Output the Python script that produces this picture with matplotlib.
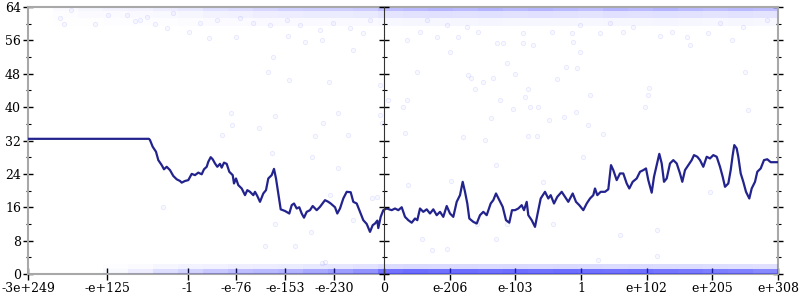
import matplotlib
matplotlib.use("Agg")
import matplotlib.pyplot as plt
from matplotlib.ticker import MultipleLocator

plt.rcParams['font.family'] = ['DejaVu Serif']
plt.rcParams['font.size'] = 9

# ---- data ----
tick_pos = [0, 79, 160, 208, 257, 306, 356, 421.7, 487.3, 553, 618.7, 684.3, 750]
tick_labels = ["-3e+249", "-e+125", "-1", "-e-76", "-e-153", "-e-230", "0",
               "e-206", "e-103", "1", "e+102", "e+205", "e+308"]
zero_pos = 356

line_x = [0, 121, 122, 124.7, 128, 130.3, 133.7, 136, 138.7, 142, 145.3, 148.7, 152, 153.7,
          157, 160.3, 163.7, 167, 170.3, 173.7, 176, 178.7, 180.3, 182.7, 184.7, 187, 189.3,
          192, 193.7, 196, 198.7, 201.3, 204.7, 206, 208, 210.3, 213.7, 217, 219.3, 222,
          225.3, 227, 229.3, 232, 235.3, 238, 240.3, 243.7, 246, 248, 250.3, 252.7, 257,
          261.3, 263.7, 266, 268.7, 271.3, 273.7, 276, 278.7, 282, 284.7, 288.7, 292, 297,
          300.3, 302.7, 307, 309.3, 312, 315.3, 318.7, 322.7, 325.3, 328.7, 332, 335.3,
          338.7, 342, 344.7, 347, 349.3, 350.3, 352.7, 355.3, 358.7, 363.7, 367, 370.3,
          373.7, 377, 380.3, 383.7, 387, 389.3, 392, 395.3, 398.7, 402, 405.3, 408.7, 412,
          415.3, 418.7, 422, 425.3, 428.7, 432, 434.7, 437, 439.3, 441.3, 445.3, 448.7, 452,
          455.3, 458.7, 462.7, 465.3, 468, 471.3, 474.7, 478, 481.3, 484, 487, 490.3, 493.7,
          496, 498.7, 500.3, 503.7, 507, 509.3, 512.7, 517, 520.3, 522.7, 526, 529.3, 533.7,
          537, 540.3, 544.7, 548, 551.3, 555.3, 558.7, 562, 565.3, 567, 569.3, 572.7, 577,
          580.3, 583, 585.3, 588.7, 592, 595.3, 598.7, 601.3, 604.7, 608.7, 612, 615.3, 618,
          620.3, 623.7, 626, 628.7, 631.3, 633.7, 636, 638.7, 642, 645.3, 648.7, 652, 654.3,
          657, 660.3, 663.7, 666, 669.3, 672, 675.3, 678.7, 682, 685.3, 688.7, 692, 694.7,
          697, 700.3, 702.7, 704.7, 706.3, 708.7, 710.3, 712.7, 715.3, 718, 721.3, 723.7,
          727, 729.3, 732.7, 736, 739.3, 742.7, 750]
line_y = [32.4, 32.4, 32.1, 30.5, 29.3, 27.3, 26.1, 25.1, 25.7, 24.9, 23.5, 22.7, 22.3, 21.9,
          22.3, 22.5, 24.0, 23.7, 24.3, 23.9, 25.1, 25.7, 26.9, 28.0, 27.5, 26.5, 25.7,
          26.4, 25.5, 26.7, 26.4, 24.5, 23.7, 21.7, 22.9, 21.3, 20.5, 18.9, 20.1, 19.7,
          18.9, 19.7, 18.7, 17.3, 19.3, 20.1, 22.9, 23.7, 25.2, 22.9, 19.3, 15.5, 15.1,
          14.5, 16.5, 16.9, 15.7, 16.0, 14.5, 13.5, 14.9, 15.3, 16.3, 15.3, 16.1, 17.7,
          17.3, 16.9, 16.0, 14.5, 15.7, 18.1, 19.7, 19.6, 17.3, 16.9, 14.9, 12.9,
          12.0, 10.1, 11.7, 12.1, 12.8, 11.0, 13.7, 15.3, 15.7, 15.3, 15.7, 15.3,
          16.0, 13.7, 12.9, 12.3, 13.3, 12.9, 15.7, 14.9, 15.5, 14.5, 15.5, 14.1, 14.9,
          13.7, 16.3, 14.5, 13.7, 17.3, 18.9, 22.1, 19.7, 16.9, 13.3, 12.5, 12.1, 14.1,
          14.9, 14.1, 16.9, 17.7, 19.3, 17.7, 16.1, 12.9, 12.3, 15.3, 15.3, 15.7, 16.5,
          15.3, 17.3, 14.1, 12.9, 11.3, 14.1, 18.1, 19.7, 18.1, 18.9, 16.9, 18.5, 19.7,
          18.5, 17.3, 19.3, 17.3, 16.5, 15.3, 16.9, 18.1, 18.9, 20.5, 18.9, 19.7, 19.7,
          20.3, 26.1, 24.9, 22.5, 24.1, 24.1, 21.7, 20.5, 22.1, 22.9, 24.5, 24.9, 25.3,
          22.5, 19.5, 23.3, 26.1, 28.8, 26.5, 22.1, 22.9, 26.5, 27.3, 26.5, 24.1, 22.1,
          24.9, 26.1, 27.3, 28.5, 28.1, 27.3, 25.7, 28.1, 27.7, 28.5, 28.1, 25.7, 23.3,
          20.9, 21.7, 24.9, 28.5, 30.9, 30.1, 28.1, 24.1, 22.1, 19.7, 18.1, 20.5,
          22.1, 24.5, 25.3, 27.3, 27.5, 26.8, 26.8]

pts_x = [32, 36.3, 42.7, 67, 80.3, 98.7, 107, 112, 127, 138.7, 161.3, 181.3, 193.7, 202.7,
         204.3, 207.7, 230.7, 240.3, 245.3, 247, 260.7, 260.3, 277, 287, 293.7, 294.7, 301,
         309.7, 319.7, 325.3, 335.3, 352, 352, 353.7, 360.3,
         377, 378.7, 375.3, 388.7, 422, 435.3, 440.3, 442.7, 447, 455.3, 457, 462.7, 465.3,
         472, 478.7, 485.3, 487, 497, 500.3, 500.3, 502, 508.7, 510.3, 521.3, 529.3, 536,
         537.7, 548, 548.7, 552, 560.3, 562, 575.3, 617, 620.3, 621.3, 662, 717, 720.3, 703.7,
         135.3, 237, 267, 247, 282.7, 243.7, 283.7, 310.3, 302, 325.3, 343.7, 348.7, 293.7,
         297, 380.3, 393.7, 403.7, 418.7, 422.7, 448.7, 468, 467.7, 478.7, 515.3, 525.3,
         555.3, 592, 628.7, 628.7, 682, 570.3,
         378.7, 392, 398.7, 408.7, 418.7, 430.3, 438.7, 450.3, 468.7, 475.3, 495.3, 495.3,
         505.3, 523.7, 543.7, 544.7, 552, 572, 582, 595.3, 605.3, 632, 643.7, 658.7, 680.3,
         692, 715.3, 738.7,
         118.7, 145.3, 172, 188.7, 212, 225.3, 242, 258.7, 272, 292, 305.3, 322, 342]
pts_y = [61.3, 59.9, 63.3, 59.9, 62.1, 62.1, 60.7, 61.0, 59.9, 58.9, 58.1, 56.5, 33.3, 38.5,
         35.7, 56.7, 35.1, 48.5, 52.1, 37.9, 46.5, 57.0, 55.7, 33.1, 56.1, 36.1, 46.1,
         38.5, 33.2, 53.7, 57.7, 45.3, 38.1, 36.3, 41.7,
         33.7, 41.7, 40.0, 48.3, 53.3, 32.8, 47.7, 47.1, 44.3, 46.1, 32.1, 37.3, 47.1,
         41.8, 50.5, 39.5, 47.9, 42.5, 44.3, 33.1, 40.1, 33.1, 40.1, 36.9, 46.7, 37.7,
         49.7, 38.9, 49.3, 53.1, 35.7, 42.9, 33.5, 40.0, 42.9, 44.7, 54.9, 48.3, 39.3, 56.1,
         16.1, 6.7, 6.7, 12.0, 10.1, 29.1, 28.0, 25.3, 18.9, 12.9, 18.1, 18.5, 2.6,
         2.9, 21.3, 8.3, 5.8, 6.0, 22.4, 12.1, 26.1, 8.3, 12.1, 22.1, 12.0,
         28.1, 9.3, 10.5, 4.3, 19.7, 3.4,
         56.1, 58.1, 60.9, 56.9, 59.7, 56.9, 59.3, 58.1, 55.3, 55.4, 55.3, 57.7,
         54.9, 58.1, 57.7, 55.7, 59.7, 57.7, 60.1, 58.1, 59.3, 57.0, 58.1, 56.9, 57.7,
         60.1, 59.3, 60.9,
         61.7, 62.5, 60.1, 60.9, 61.3, 60.1, 59.7, 60.9, 59.7, 58.5, 60.1, 58.9, 60.9]

# density of the crowded strips along y=64 and y=0, per 25-unit bin
bin_left = list(range(0, 750, 25))
top_density = [0.0, 0.02, 0.04, 0.05, 0.06, 0.08, 0.10, 0.14, 0.16, 0.19, 0.21, 0.22, 0.22,
               0.24, 0.30, 0.32, 0.34, 0.32, 0.35, 0.32, 0.34, 0.32, 0.30, 0.34, 0.32, 0.35,
               0.32, 0.30, 0.32, 0.30]
bottom_density = [0.0, 0.0, 0.0, 0.03, 0.08, 0.15, 0.20, 0.25, 0.30, 0.32, 0.35, 0.40, 0.45,
                  0.50, 0.65, 0.68, 0.66, 0.68, 0.66, 0.68, 0.66, 0.68, 0.66, 0.65, 0.66, 0.64,
                  0.62, 0.60, 0.58, 0.55]

# ---- figure ----
fig = plt.figure(figsize=(8, 3), dpi=100)
rect = [28 / 800, 26 / 300, 750 / 800, 267 / 300]
ax = fig.add_axes(rect)
ax.set_xlim(0, 750)
ax.set_ylim(0, 64)

blue = (0.15, 0.15, 1.0)
# top strip: core, middle and halo layers
ax.bar(bin_left, [1.0] * len(bin_left), width=25, bottom=63.0, align='edge',
       color=[blue + (d,) for d in top_density], linewidth=0, zorder=1)
ax.bar(bin_left, [1.6] * len(bin_left), width=25, bottom=61.4, align='edge',
       color=[blue + (d * 0.4,) for d in top_density], linewidth=0, zorder=1)
ax.bar(bin_left, [2.0] * len(bin_left), width=25, bottom=59.4, align='edge',
       color=[blue + (d * 0.12,) for d in top_density], linewidth=0, zorder=1)
# bottom strip
ax.bar(bin_left, [1.3] * len(bin_left), width=25, bottom=0, align='edge',
       color=[blue + (d,) for d in bottom_density], linewidth=0, zorder=3)
ax.bar(bin_left, [1.0] * len(bin_left), width=25, bottom=1.3, align='edge',
       color=[blue + (d * 0.25,) for d in bottom_density], linewidth=0, zorder=3)

ax.scatter(pts_x, pts_y, s=10, facecolors=(0.3, 0.3, 1.0, 0.04),
           edgecolors=(0.3, 0.3, 1.0, 0.11), linewidths=0.6, zorder=2)

ax.plot(line_x, line_y, color='#23238e', lw=1.6, zorder=4, solid_joinstyle='round')

spine_col = '#a8a8a8'
for s in ['left', 'right', 'top', 'bottom']:
    ax.spines[s].set_color(spine_col)
    ax.spines[s].set_linewidth(1.5)

ax.set_xticks(tick_pos)
ax.set_xticklabels(tick_labels)
ax.yaxis.set_major_locator(MultipleLocator(8))
ax.yaxis.set_minor_locator(MultipleLocator(4))
ax.tick_params(axis='x', direction='inout', length=8, width=1.0, color='black', pad=2)
ax.tick_params(axis='y', which='major', direction='inout', length=7, width=1.0,
               color='black', pad=1.5, right=True, left=True)
ax.tick_params(axis='y', which='minor', direction='inout', length=3.6, width=0.8,
               color='black', right=True, left=True)

# central axis at zero
ax2 = fig.add_axes(rect, sharey=ax)
ax2.set_xlim(0, 750)
ax2.patch.set_visible(False)
for s in ['right', 'top', 'bottom']:
    ax2.spines[s].set_visible(False)
ax2.spines['left'].set_position(('data', zero_pos))
ax2.spines['left'].set_color('#333333')
ax2.spines['left'].set_linewidth(0.8)
ax2.set_xticks([])
ax2.tick_params(axis='y', which='major', direction='inout', length=7, width=1.0,
                color='black', labelleft=False)
ax2.tick_params(axis='y', which='minor', direction='inout', length=3.6, width=0.8,
                color='black', labelleft=False)

fig.savefig('out.png', dpi=100)
